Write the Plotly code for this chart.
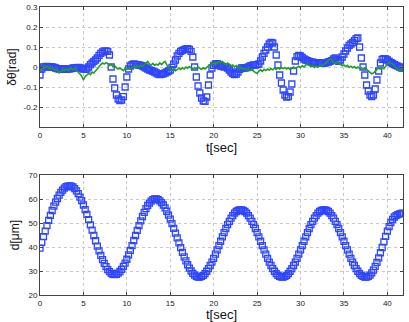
import plotly.graph_objects as go

dt = 0.2  # sampling step [s]

# top panel: blue squares (dtheta)
theta_blue = [
 -0.04,-0.01,0.0,0.002,0.003,0.0,0.002,0.0,-0.002,-0.005,
 -0.008,-0.01,-0.009,-0.011,-0.01,-0.012,-0.01,-0.009,-0.008,-0.005,
 -0.004,-0.003,-0.002,-0.004,-0.006,-0.01,-0.012,-0.01,0.0,0.012,
 0.02,0.028,0.035,0.045,0.058,0.068,0.075,0.079,0.08,0.078,
 0.06,0.0,-0.06,-0.105,-0.14,-0.16,-0.168,-0.165,-0.148,-0.1,
 -0.05,-0.01,0.005,0.012,0.015,0.013,0.012,0.01,0.008,0.005,
 0.0,-0.005,-0.01,-0.015,-0.018,-0.022,-0.025,-0.03,-0.035,-0.038,
 -0.036,-0.034,-0.03,-0.025,-0.02,-0.015,-0.002,0.015,0.035,0.055,
 0.068,0.078,0.083,0.087,0.09,0.092,0.088,0.078,0.05,0.0,
 -0.05,-0.095,-0.13,-0.155,-0.17,-0.172,-0.15,-0.09,-0.04,-0.005,
 0.008,0.015,0.017,0.012,0.005,0.003,0.0,0.002,-0.005,-0.015,
 -0.025,-0.033,-0.038,-0.035,-0.025,-0.012,-0.005,-0.004,-0.005,-0.003,
 0.0,0.005,0.008,0.01,0.01,0.012,0.015,0.03,0.05,0.068,
 0.085,0.1,0.115,0.123,0.12,0.1,0.06,0.01,-0.04,-0.08,
 -0.115,-0.14,-0.15,-0.148,-0.125,-0.085,-0.02,0.03,0.052,0.058,
 0.055,0.048,0.04,0.035,0.032,0.028,0.025,0.024,0.02,0.018,
 0.02,0.022,0.02,0.018,0.02,0.022,0.025,0.028,0.032,0.04,
 0.045,0.035,0.028,0.035,0.05,0.065,0.08,0.095,0.108,0.115,
 0.122,0.132,0.142,0.145,0.1,0.045,0.0,-0.04,-0.09,-0.12,
 -0.14,-0.148,-0.14,-0.11,-0.065,-0.02,0.02,0.038,0.042,0.04,
 0.035,0.028,0.022,0.018,0.012,0.008,0.004,0.0,-0.004,-0.006,
]

# top panel: green line
theta_green = [
 -0.02,-0.008,0.002,-0.004,0.004,-0.003,-0.01,-0.004,-0.012,-0.018,
 -0.012,-0.03,-0.022,-0.015,-0.02,-0.01,-0.018,-0.012,-0.005,-0.014,
 -0.008,-0.016,-0.025,-0.035,-0.045,-0.065,-0.048,-0.04,-0.032,-0.038,
 -0.025,-0.03,-0.018,-0.008,0.002,0.012,0.02,0.015,0.022,0.018,
 0.008,0.012,0.002,0.006,-0.004,-0.01,-0.005,-0.012,-0.018,-0.008,
 -0.012,-0.004,-0.01,-0.002,0.004,-0.003,0.006,0.0,0.008,0.002,
 0.012,0.02,0.028,0.015,0.01,0.018,0.008,0.014,0.01,0.02,
 0.012,0.022,0.028,0.012,-0.002,-0.012,-0.018,-0.01,-0.02,-0.014,
 -0.006,-0.012,-0.004,-0.01,0.0,-0.006,0.002,-0.004,-0.01,-0.003,
 -0.008,0.0,-0.006,-0.012,-0.004,-0.01,-0.002,0.004,0.012,0.02,
 0.015,0.024,0.018,0.026,0.02,0.028,0.018,0.012,0.02,0.01,
 0.004,0.01,0.0,0.006,-0.004,0.002,-0.008,-0.012,-0.006,-0.016,
 -0.01,-0.018,-0.012,-0.022,-0.028,-0.032,-0.02,-0.014,-0.022,-0.012,
 -0.018,-0.01,-0.016,-0.008,-0.014,-0.006,-0.012,-0.004,-0.01,-0.003,
 -0.008,-0.002,-0.01,-0.004,-0.012,-0.006,0.0,-0.008,-0.002,0.004,
 -0.003,0.006,0.0,0.01,0.018,0.008,0.002,0.008,-0.002,0.004,
 0.0,0.006,0.002,0.01,0.016,0.024,0.032,0.04,0.036,0.026,
 0.018,0.028,0.022,0.014,0.006,0.01,0.002,0.008,-0.002,0.004,
 -0.004,0.002,-0.006,0.0,-0.008,-0.002,-0.01,-0.004,-0.012,-0.02,
 -0.028,-0.034,-0.03,-0.02,-0.012,-0.006,-0.01,-0.002,-0.008,0.004,
 0.016,0.026,0.018,0.012,0.008,-0.004,-0.012,-0.02,-0.01,-0.004,
]

# bottom panel: d [um]
d_um = [
 39.5,41.9,44.3,46.6,48.9,51.1,53.2,55.2,57.0,58.7,
 60.2,61.6,62.8,63.7,64.5,65.1,65.4,65.5,65.4,65.0,
 64.3,63.4,62.2,60.8,59.3,57.5,55.6,53.6,51.4,49.2,
 47.0,44.8,42.6,40.4,38.4,36.5,34.7,33.2,31.8,30.6,
 29.7,29.0,28.6,28.5,28.6,29.1,29.8,30.7,31.9,33.3,
 34.9,36.7,38.6,40.6,42.7,44.8,46.9,48.9,50.9,52.7,
 54.4,56.0,57.3,58.3,59.1,59.7,60.0,60.0,59.7,59.2,
 58.5,57.5,56.3,54.9,53.3,51.6,49.7,47.8,45.8,43.8,
 41.7,39.7,37.8,35.9,34.2,32.6,31.2,30.0,29.0,28.3,
 27.8,27.5,27.5,27.8,28.2,28.9,29.9,31.0,32.3,33.7,
 35.3,37.0,38.8,40.6,42.4,44.2,46.0,47.7,49.3,50.7,
 52.0,53.1,54.1,54.8,55.2,55.5,55.5,55.2,54.8,54.1,
 53.1,52.0,50.7,49.3,47.7,46.0,44.2,42.4,40.6,38.8,
 37.0,35.3,33.7,32.3,31.0,29.9,28.9,28.2,27.8,27.5,
 27.5,27.8,28.2,28.9,29.9,31.0,32.3,33.7,35.3,37.0,
 38.8,40.6,42.4,44.2,46.0,47.7,49.3,50.7,52.0,53.1,
 54.1,54.8,55.2,55.5,55.5,55.2,54.8,54.1,53.1,52.0,
 50.7,49.3,47.7,46.0,44.2,42.4,40.6,38.8,37.0,35.3,
 33.7,32.3,31.0,29.9,28.9,28.2,27.8,27.5,27.5,27.8,
 28.3,29.2,30.4,31.9,33.6,35.5,37.6,39.8,42.1,44.4,
 46.6,48.5,50.2,51.5,52.5,53.1,53.5,53.8,54.0,54.1,
]

t_top = [round(i * dt, 2) for i in range(len(theta_blue))]
t_green = [round(i * dt, 2) for i in range(len(theta_green))]
t_bot = [round(i * dt, 2) for i in range(len(d_um))]

x_ticks = [0, 5, 10, 15, 20, 25, 30, 35, 40]
top_ticks = [-0.2, -0.1, 0, 0.1, 0.2, 0.3]
top_labels = ["-0.2", "-0.1", "0", "0.1", "0.2", "0.3"]
bot_ticks = [20, 30, 40, 50, 60, 70]

BLUE = "#2e46ff"
GREEN = "#1f9e1f"

marker_style = dict(symbol="square-open", size=6, color=BLUE,
                    line=dict(width=1.3, color=BLUE))

fig = go.Figure()
fig.add_trace(go.Scatter(x=t_top, y=theta_blue, mode="markers", marker=marker_style,
                         xaxis="x", yaxis="y", showlegend=False))
fig.add_trace(go.Scatter(x=t_green, y=theta_green, mode="lines",
                         line=dict(color=GREEN, width=1.6),
                         xaxis="x", yaxis="y", showlegend=False))
fig.add_trace(go.Scatter(x=t_bot, y=d_um, mode="markers", marker=marker_style,
                         xaxis="x2", yaxis="y2", showlegend=False))

axis_common = dict(showline=True, linecolor="#444", linewidth=1, mirror="ticks",
                   ticks="inside", ticklen=3, tickcolor="#444", automargin=False,
                   showgrid=True, gridcolor="#c8c8c8", griddash="dot", gridwidth=1,
                   zeroline=False, tickfont=dict(size=8, color="#222"))

fig.update_layout(
    width=409, height=322,
    margin=dict(l=0, r=0, t=0, b=0, autoexpand=False),
    paper_bgcolor="white", plot_bgcolor="white",
    font=dict(family="Liberation Sans, Arial, sans-serif", color="#111"),
    xaxis=dict(domain=[40/409, 403/409], range=[0, 41.8], tickvals=x_ticks,
               anchor="y", title=dict(text="t[sec]", font=dict(size=13), standoff=2),
               **axis_common),
    yaxis=dict(domain=[1-127/322, 1-7/322], range=[-0.3, 0.3], tickvals=top_ticks,
               ticktext=top_labels, anchor="x",
               title=dict(text="δθ[rad]", font=dict(size=12), standoff=4),
               **axis_common),
    xaxis2=dict(domain=[40/409, 403/409], range=[0, 41.8], tickvals=x_ticks,
                anchor="y2", title=dict(text="t[sec]", font=dict(size=13), standoff=2),
                **axis_common),
    yaxis2=dict(domain=[1-295/322, 1-175/322], range=[20, 70], tickvals=bot_ticks,
                anchor="x2", title=dict(text="d[μm]", font=dict(size=12), standoff=6),
                **axis_common),
)

fig.write_html("out.html", config={"displayModeBar": False},
               post_script="document.body.style.margin='0';document.body.style.overflow='hidden';")
